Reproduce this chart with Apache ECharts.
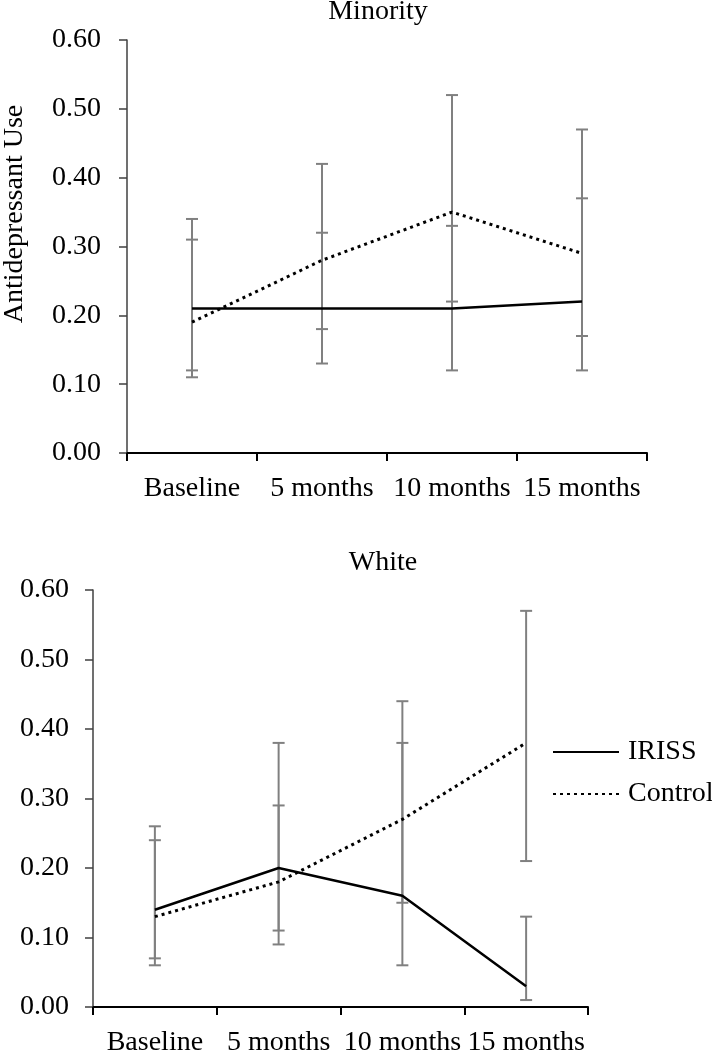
<!DOCTYPE html>
<html>
<head>
<meta charset="utf-8">
<style>html,body{margin:0;padding:0;background:#fff}#c{width:712px;height:1050px}</style>
<script src="https://cdn.jsdelivr.net/npm/echarts@6/dist/echarts.min.js"></script>
</head>
<body>
<div id="c"></div>
<script>
const categories = ['Baseline', '5 months', '10 months', '15 months'];
const panelTitles = ['Minority', 'White'];
const seriesNames = ['IRISS', 'Control'];
const yAxisTitle = 'Antidepressant Use';

const minorityIriss = [0.21, 0.21, 0.21, 0.22];
const minorityControl = [0.19, 0.28, 0.35, 0.29];
const minorityIrissLow = [0.11, 0.13, 0.12, 0.12];
const minorityIrissHigh = [0.31, 0.32, 0.33, 0.37];
const minorityControlLow = [0.12, 0.18, 0.22, 0.17];
const minorityControlHigh = [0.34, 0.42, 0.52, 0.47];

const whiteIriss = [0.14, 0.20, 0.16, 0.03];
const whiteControl = [0.13, 0.18, 0.27, 0.38];
const whiteIrissLow = [0.07, 0.11, 0.06, 0.01];
const whiteIrissHigh = [0.26, 0.29, 0.38, 0.13];
const whiteControlLow = [0.06, 0.09, 0.15, 0.21];
const whiteControlHigh = [0.24, 0.38, 0.44, 0.57];

const FONT = "'Liberation Serif', 'Times New Roman', serif";
const FS = 28;

function errData(lo, hi) { return lo.map((l, i) => [i, l, hi[i]]); }

function errSeries(idx, lo, hi) {
  return {
    type: 'custom', xAxisIndex: idx, yAxisIndex: idx, z: 1, silent: true,
    encode: { x: 0, y: [1, 2] },
    data: errData(lo, hi),
    renderItem: function (params, api) {
      const c = api.value(0);
      const pLo = api.coord([c, api.value(1)]);
      const pHi = api.coord([c, api.value(2)]);
      const hw = 6;
      const st = { stroke: '#808080', lineWidth: 2 };
      return { type: 'group', children: [
        { type: 'line', shape: { x1: pLo[0], y1: pLo[1], x2: pHi[0], y2: pHi[1] }, style: st },
        { type: 'line', shape: { x1: pLo[0] - hw, y1: pLo[1], x2: pLo[0] + hw, y2: pLo[1] }, style: st },
        { type: 'line', shape: { x1: pHi[0] - hw, y1: pHi[1], x2: pHi[0] + hw, y2: pHi[1] }, style: st }
      ]};
    }
  };
}

function lineSeries(idx, name, data, dotted) {
  return {
    type: 'line', name: name, xAxisIndex: idx, yAxisIndex: idx, z: 3,
    data: data, symbol: 'none', silent: true,
    lineStyle: dotted ? { color: '#000', width: 3, type: [3, 4] } : { color: '#000', width: 2.5 },
    itemStyle: { color: '#000' }
  };
}

function xAxis(idx) {
  return {
    type: 'category', gridIndex: idx, data: categories,
    axisLine: { lineStyle: { color: '#000', width: 2 } },
    axisTick: { show: true, length: 8, lineStyle: { color: '#000', width: 2 } },
    axisLabel: { interval: 0, color: '#000', fontFamily: FONT, fontSize: FS, margin: 22 },
    splitLine: { show: false }
  };
}
function yAxis(idx, margin) {
  return {
    type: 'value', gridIndex: idx, min: 0, max: 0.6, interval: 0.1,
    axisLine: { show: true, lineStyle: { color: '#404040', width: 1.5 } },
    axisTick: { show: true, length: 8, lineStyle: { color: '#404040', width: 1.5 } },
    axisLabel: { color: '#000', fontFamily: FONT, fontSize: FS, margin: margin, formatter: v => v.toFixed(2) },
    splitLine: { show: false }
  };
}

const chart = echarts.init(document.getElementById('c'), null, { renderer: 'canvas' });
chart.setOption({
  backgroundColor: '#fff',
  animation: false,
  grid: [
    { left: 127, top: 40, width: 520, height: 413, containLabel: false, outerBoundsMode: 'none' },
    { left: 93, top: 590, width: 495, height: 417, containLabel: false, outerBoundsMode: 'none' }
  ],
  xAxis: [xAxis(0), xAxis(1)],
  yAxis: [yAxis(0, 26), yAxis(1, 24)],
  legend: {
    data: seriesNames, orient: 'vertical', left: 552, top: 738, padding: 0,
    itemWidth: 66, itemHeight: 14, itemGap: 14,
    itemStyle: { opacity: 0 },
    textStyle: { color: '#000', fontFamily: FONT, fontSize: FS, lineHeight: 28, padding: [0, 0, 0, 4] }
  },
  graphic: [
    { type: 'text', x: 378, y: 12, style: { text: panelTitles[0], fill: '#000', font: FS + 'px ' + FONT, textAlign: 'center', textVerticalAlign: 'middle' } },
    { type: 'text', x: 383, y: 563, style: { text: panelTitles[1], fill: '#000', font: FS + 'px ' + FONT, textAlign: 'center', textVerticalAlign: 'middle' } },
    { type: 'text', x: 15, y: 214, rotation: Math.PI / 2, style: { text: yAxisTitle, fill: '#000', font: FS + 'px ' + FONT, textAlign: 'center', textVerticalAlign: 'middle' } }
  ],
  series: [
    errSeries(0, minorityIrissLow, minorityIrissHigh),
    errSeries(0, minorityControlLow, minorityControlHigh),
    lineSeries(0, seriesNames[0], minorityIriss, false),
    lineSeries(0, seriesNames[1], minorityControl, true),
    errSeries(1, whiteIrissLow, whiteIrissHigh),
    errSeries(1, whiteControlLow, whiteControlHigh),
    lineSeries(1, seriesNames[0], whiteIriss, false),
    lineSeries(1, seriesNames[1], whiteControl, true)
  ]
});
</script>
</body>
</html>
